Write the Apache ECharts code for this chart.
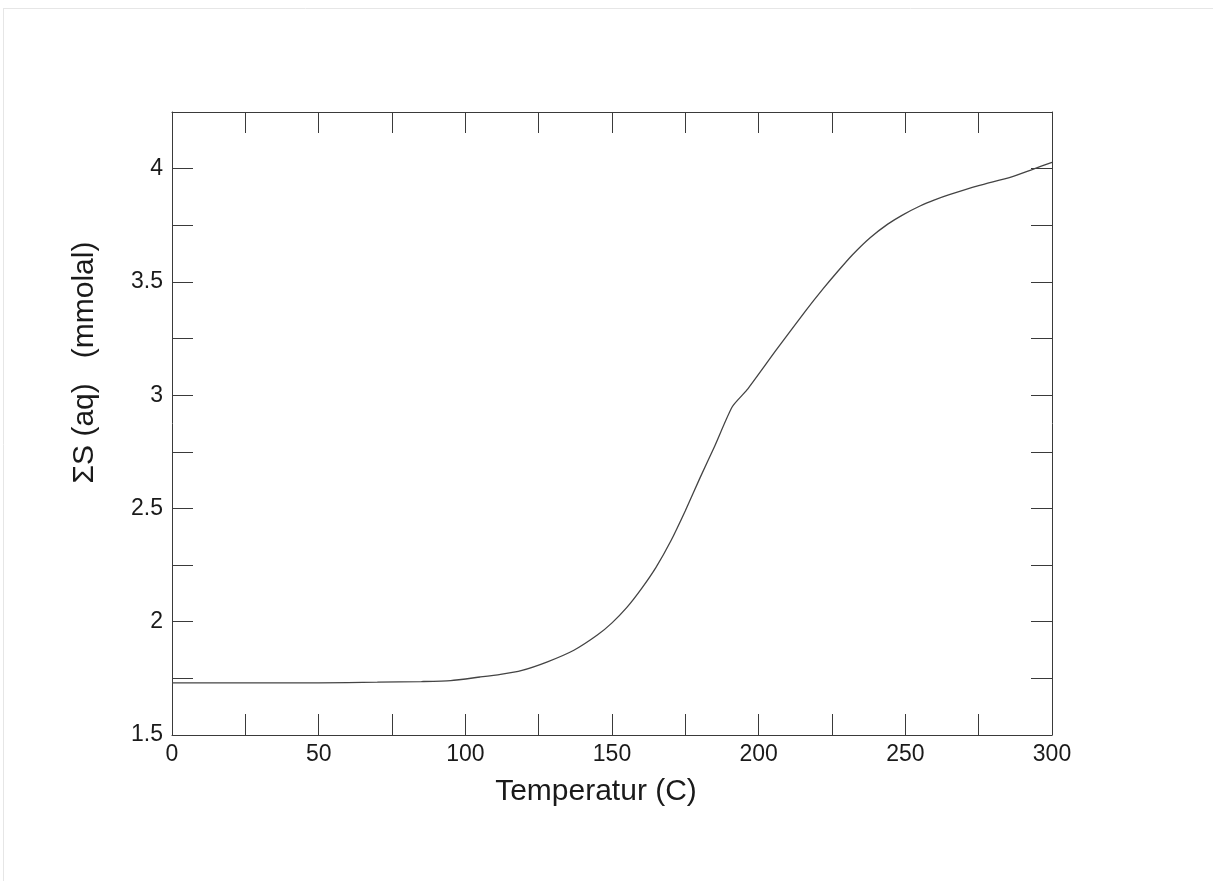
<!DOCTYPE html>
<html>
<head>
<meta charset="utf-8">
<title>ΣS (aq) vs Temperatur</title>
<script src="https://cdn.jsdelivr.net/npm/echarts@6/dist/echarts.min.js"></script>
<style>
  html, body { margin: 0; padding: 0; background: #ffffff; }
  #chart { width: 1213px; height: 881px; }
</style>
</head>
<body>
<div id="chart"></div>
<script>
// Temperature (°C) and total dissolved sulfur (mmolal)
const temperature = [0, 25, 50, 70, 85, 95, 105, 112, 119, 128, 137, 145, 150, 155, 160, 165, 170, 175, 180, 185, 191, 196, 206, 216, 222, 227, 232, 238, 244, 249, 255, 260, 265, 275, 286, 293, 300];
const sulfur = [1.730, 1.730, 1.730, 1.733, 1.736, 1.740, 1.756, 1.768, 1.784, 1.823, 1.874, 1.941, 1.995, 2.062, 2.145, 2.240, 2.355, 2.490, 2.635, 2.775, 2.949, 3.023, 3.200, 3.372, 3.470, 3.547, 3.620, 3.695, 3.755, 3.795, 3.835, 3.862, 3.885, 3.925, 3.963, 3.995, 4.028];

// Labelled ticks on each axis
const xTickLabels = [0, 50, 100, 150, 200, 250, 300];
const yTickLabels = [1.5, 2, 2.5, 3, 3.5, 4];

const xTitle = 'Temperatur (C)';
const yTitle = 'ΣS (aq)   (mmolal)';

const points = temperature.map((t, i) => [t, sulfur[i]]);

const axisColor = '#3a3a3a';
const labelFont = { color: '#1a1a1a', fontSize: 23, fontFamily: 'Liberation Sans, Arial, sans-serif' };

function xAxisBase(position, showLabels) {
  return {
    type: 'value',
    position: position,
    min: 0,
    max: 300,
    interval: 25,
    axisLine: { show: true, onZero: false, lineStyle: { color: axisColor, width: 1 } },
    axisTick: { show: true, inside: true, length: 21, lineStyle: { color: axisColor, width: 1 } },
    axisLabel: {
      show: showLabels,
      margin: 8,
      ...labelFont,
      formatter: v => (xTickLabels.includes(v) ? String(v) : '')
    },
    splitLine: { show: false }
  };
}

function yAxisBase(position, showLabels) {
  return {
    type: 'value',
    position: position,
    min: 1.5,
    max: 4.25,
    interval: 0.25,
    axisLine: { show: true, onZero: false, lineStyle: { color: axisColor, width: 1 } },
    axisTick: { show: true, inside: true, length: 21, lineStyle: { color: axisColor, width: 1 } },
    axisLabel: {
      show: showLabels,
      margin: 9,
      ...labelFont,
      formatter: v => {
        const hit = yTickLabels.find(l => Math.abs(l - v) < 1e-9);
        return hit !== undefined ? String(hit) : '';
      }
    },
    splitLine: { show: false }
  };
}

const xBottom = Object.assign(xAxisBase('bottom', true), {
  name: xTitle,
  nameLocation: 'middle',
  nameGap: 42,
  nameTextStyle: { color: '#1a1a1a', fontSize: 30, fontFamily: 'Liberation Sans, Arial, sans-serif', padding: [0, 32, 0, 0] }
});
const xTop = xAxisBase('top', false);

const yLeft = Object.assign(yAxisBase('left', true), {
  name: yTitle,
  nameLocation: 'middle',
  nameGap: 72,
  nameTextStyle: { color: '#1a1a1a', fontSize: 30, fontFamily: 'Liberation Sans, Arial, sans-serif', padding: [0, 0, 0, 122] }
});
const yRight = yAxisBase('right', false);

const chart = echarts.init(document.getElementById('chart'), null, { renderer: 'canvas' });

chart.setOption({
  backgroundColor: '#ffffff',
  animation: false,
  grid: { left: 172, top: 112, right: 161, bottom: 146, containLabel: false },
  xAxis: [xBottom, xTop],
  yAxis: [yLeft, yRight],
  graphic: [
    // faint page frame along the top and left edges
    { type: 'line', shape: { x1: 3, y1: 8.5, x2: 1213, y2: 8.5 }, style: { stroke: '#e6e6e6', lineWidth: 1 }, silent: true },
    { type: 'line', shape: { x1: 3.5, y1: 8, x2: 3.5, y2: 881 }, style: { stroke: '#e6e6e6', lineWidth: 1 }, silent: true }
  ],
  series: [{
    type: 'line',
    xAxisIndex: 0,
    yAxisIndex: 0,
    data: points,
    showSymbol: false,
    smooth: 0.2,
    lineStyle: { color: '#444444', width: 1.3 },
    silent: true
  }]
});
</script>
</body>
</html>
